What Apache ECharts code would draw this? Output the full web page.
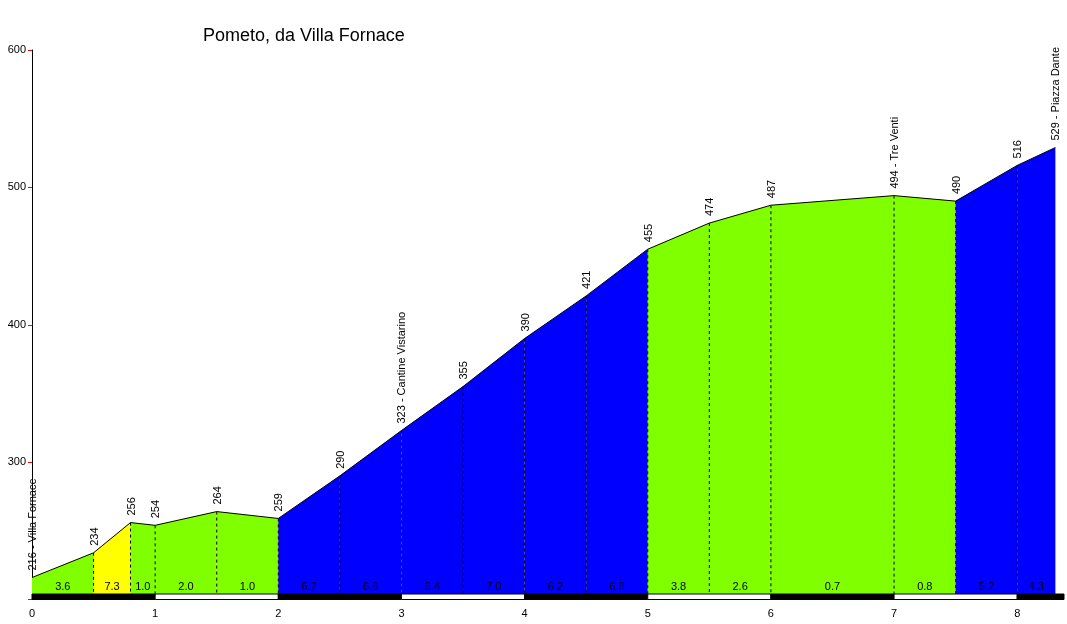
<!DOCTYPE html>
<html><head><meta charset="utf-8">
<script src="https://cdn.jsdelivr.net/npm/echarts@6/dist/echarts.min.js"></script>
<style>html,body{margin:0;background:#fff}#c{width:1067px;height:624px}</style>
</head><body><div id="c"></div>
<script>
var km = [0, 0.5, 0.8, 1.0, 1.5, 2.0, 2.5, 3.0, 3.5, 4.0, 4.5, 5.0, 5.5, 6.0, 7.0, 7.5, 8.0, 8.31];
var alt = [216, 234, 256, 254, 264, 259, 290, 323, 355, 390, 421, 455, 474, 487, 494, 490, 516, 529];
var names = {0: 'Villa Fornace', 7: 'Cantine Vistarino', 14: 'Tre Venti', 17: 'Piazza Dante'};
var grades = ['3.6', '7.3', '1.0', '2.0', '1.0', '6.2', '6.6', '6.4', '7.0', '6.2', '6.8', '3.8', '2.6', '0.7', '0.8', '5.2', '4.3'];
var gradeColors = ['#80ff00', '#ffff00', '#80ff00', '#80ff00', '#80ff00', '#0000ff', '#0000ff', '#0000ff', '#0000ff', '#0000ff', '#0000ff',
  '#80ff00', '#80ff00', '#80ff00', '#80ff00', '#0000ff', '#0000ff'];
var BASE = 204, MIN = 200;

var segs = grades.map(function (g, i) { return [i, km[i], km[i + 1]]; });
var pts = km.map(function (k, i) { return [k, alt[i], i]; });
var stripes = [];
for (var s = 0; s < 9; s++) stripes.push([s, Math.min(s + 1, 8.38)]);

var chart = echarts.init(document.getElementById('c'));
chart.setOption({
  animation: false,
  title: {text: 'Pometo, da Villa Fornace', left: 198, top: 22,
    textStyle: {fontFamily: 'Liberation Sans', fontSize: 18, fontWeight: 'normal', color: '#000'}},
  grid: {left: 32, right: 2, top: 50, bottom: 24.5},
  xAxis: {type: 'value', min: 0, max: 8.38, interval: 1,
    axisLine: {show: false}, axisTick: {show: false}, splitLine: {show: false},
    axisLabel: {margin: 9, color: '#000', fontFamily: 'Liberation Sans', fontSize: 11,
      formatter: function (v) { return v <= 8 ? v : ''; }}},
  yAxis: {type: 'value', min: MIN, max: 600, interval: 100,
    axisLine: {show: true, lineStyle: {color: '#000'}},
    axisTick: {show: true, length: 4, lineStyle: {color: '#ff0000'}},
    splitLine: {show: false},
    axisLabel: {color: '#000', fontFamily: 'Liberation Sans', fontSize: 11, margin: 6,
      formatter: function (v) { return v === MIN ? '' : v; }}},
  series: [
    {type: 'custom', data: segs, z: 2, renderItem: function (p, api) {
      var i = api.value(0);
      var a = api.coord([km[i], BASE]), b = api.coord([km[i], alt[i]]),
          c = api.coord([km[i + 1], alt[i + 1]]), d = api.coord([km[i + 1], BASE]);
      var mid = api.coord([(km[i] + km[i + 1]) / 2, 209]);
      return {type: 'group', children: [
        {type: 'polygon', shape: {points: [a, b, c, d]}, style: {fill: gradeColors[i]}},
        {type: 'line', shape: {x1: b[0], y1: b[1], x2: c[0], y2: c[1]}, style: {stroke: '#000', lineWidth: 1}},
        {type: 'text', x: mid[0], y: mid[1], style: {text: grades[i], fill: '#000', fontSize: 11,
          fontFamily: 'Liberation Sans', align: 'center', verticalAlign: 'middle'}}
      ]};
    }},
    {type: 'custom', data: pts, z: 3, renderItem: function (p, api) {
      var i = api.value(2);
      var top = api.coord([km[i], alt[i]]), bot = api.coord([km[i], BASE]);
      var label = alt[i] + (names[i] ? ' - ' + names[i] : '');
      var ch = [{type: 'text', x: top[0] + 1, y: top[1] - 7, rotation: Math.PI / 2,
        style: {text: label, fill: '#000', fontSize: 11, fontFamily: 'Liberation Sans',
          align: 'left', verticalAlign: 'middle'}}];
      if (i > 0 && i < km.length - 1) ch.push({type: 'line', shape: {x1: top[0], y1: top[1], x2: bot[0], y2: bot[1]},
        style: {stroke: '#000', lineWidth: 1, lineDash: [3, 3]}});
      return {type: 'group', children: ch};
    }},
    {type: 'custom', data: stripes, z: 4, renderItem: function (p, api) {
      var a = api.coord([api.value(0), BASE]), b = api.coord([api.value(1), MIN]);
      return {type: 'rect', shape: {x: a[0], y: a[1], width: b[0] - a[0], height: b[1] - a[1]},
        style: {fill: api.value(0) % 2 === 0 ? '#000' : '#fff', stroke: '#000', lineWidth: 1}};
    }}
  ]
});
</script></body></html>
